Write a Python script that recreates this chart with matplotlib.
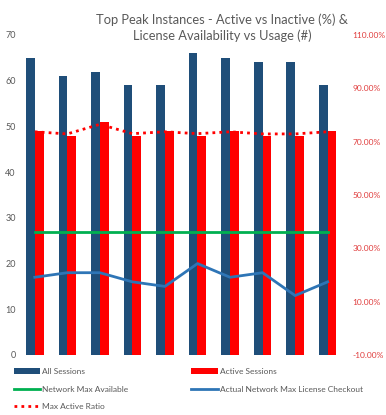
import matplotlib
matplotlib.use("Agg")
import matplotlib.pyplot as plt
import numpy as np

plt.rcParams['font.family'] = ['Lato', 'DejaVu Sans']

all_sessions = [65, 61, 62, 59, 59, 66, 65, 64, 64, 59]
active_sessions = [49, 48, 51, 48, 49, 48, 49, 48, 48, 49]
network_max = [27, 27, 27, 27, 27, 27, 27, 27, 27, 27]
actual_checkout = [17, 18, 18, 16, 15, 20, 17, 18, 13, 16]
max_active_ratio = [73.7, 72.9, 76.5, 73.0, 73.7, 73.0, 73.7, 72.9, 72.9, 73.7]

x = np.arange(len(all_sessions))
w = 0.27

fig = plt.figure(figsize=(3.86, 4.15), dpi=100)
ax = fig.add_axes([0.048, 0.1446, 0.843, 0.7711])
ax2 = ax.twinx()

b1 = ax.bar(x - w / 2, all_sessions, w, color='#1F4E79', label='All Sessions')
b2 = ax.bar(x + w / 2, active_sessions, w, color='#FF0000', label='Active Sessions')
l1, = ax.plot(x, network_max, color='#00B050', lw=2, label='Network Max Available')
l2, = ax.plot(x, actual_checkout, color='#2E75B6', lw=2, label='Actual Network Max License Checkout')
l3, = ax2.plot(x, max_active_ratio, color='#FF0000', lw=2, ls=(0, (1, 1.5)), label='Max Active Ratio')

ax.set_xlim(-0.5, len(x) - 0.5)
ax.set_ylim(0, 70)
ax.set_yticks(range(0, 71, 10))
ax2.set_ylim(-10, 110)
ax2.set_yticks(range(-10, 111, 20))
ax2.set_yticklabels(['%.2f%%' % v for v in range(-10, 111, 20)])

ax.set_xticks([])
for a in (ax, ax2):
    for s in a.spines.values():
        s.set_visible(False)
ax.tick_params(axis='y', length=0, labelsize=6.5, labelcolor='#595959', pad=2)
ax2.tick_params(axis='y', length=0, labelsize=6, labelcolor='#E03C3C', pad=6)

fig.text(0.575, 0.968, 'Top Peak Instances - Active vs Inactive (%) &\nLicense Availability vs Usage (#)',
         ha='center', va='top', fontsize=9.3, color='#595959', linespacing=1.35)

fig.legend([b1, l1, l3, b2, l2],
           ['All Sessions', 'Network Max Available', 'Max Active Ratio',
            'Active Sessions', 'Actual Network Max License Checkout'],
           ncol=2, loc='upper left', bbox_to_anchor=(0.035, 0.113), frameon=False,
           fontsize=6, labelcolor='#595959', handlelength=3.2, handletextpad=0.25,
           columnspacing=7.5, labelspacing=1.25, borderaxespad=0, borderpad=0)

fig.savefig('out.png', dpi=100)
